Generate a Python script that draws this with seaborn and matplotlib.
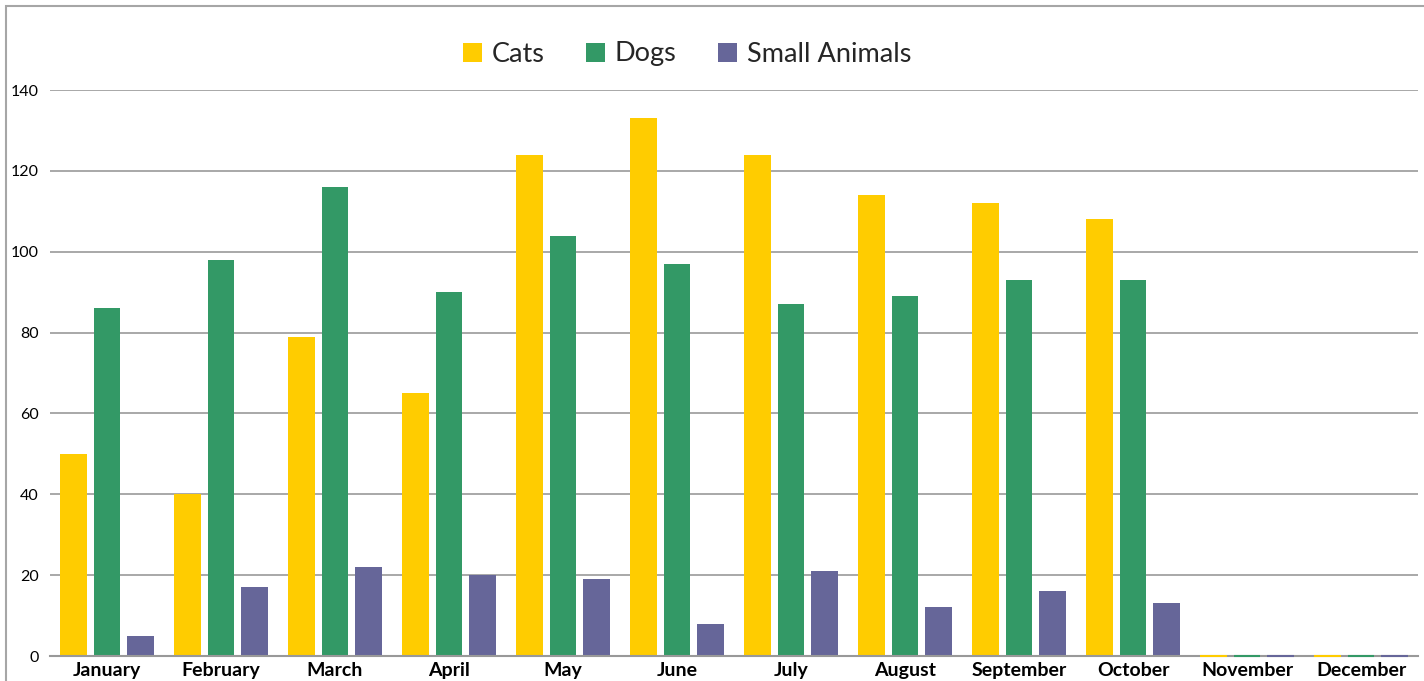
import pandas as pd
import matplotlib.pyplot as plt
import seaborn as sns
from matplotlib.patches import Rectangle

# Monthly intake counts
months = ["January", "February", "March", "April", "May", "June",
          "July", "August", "September", "October", "November", "December"]
cats = [50, 40, 79, 65, 124, 133, 124, 114, 112, 108, 0, 0]
dogs = [86, 98, 116, 90, 104, 97, 87, 89, 93, 93, 0, 0]
small_animals = [5, 17, 22, 20, 19, 8, 21, 12, 16, 13, 0, 0]

series = {"Cats": cats, "Dogs": dogs, "Small Animals": small_animals}
colors = {"Cats": "#FFCC00", "Dogs": "#339966", "Small Animals": "#666699"}

df = pd.DataFrame(
    [(m, name, v) for name, vals in series.items() for m, v in zip(months, vals)],
    columns=["Month", "Animal", "Count"],
)

sns.set_theme(style="white")
plt.rcParams["font.family"] = ["Lato", "DejaVu Sans"]

fig = plt.figure(figsize=(14.24, 6.81), dpi=100)
ax = fig.add_axes([50 / 1424, 1 - 656 / 681, (1418 - 50) / 1424, (656 - 90) / 681])

sns.barplot(data=df, x="Month", y="Count", hue="Animal", palette=colors,
            width=0.88, gap=0.2, ax=ax, linewidth=0, saturation=1)

# zero values still show as a thin line of colour over the axis line
for bar in ax.patches:
    if bar.get_height() == 0 and bar.get_width() > 0:
        bar.set_edgecolor(bar.get_facecolor())
        bar.set_linewidth(1.5)
        bar.set_zorder(5)
        bar.set_clip_on(False)

ax.set_xlim(-0.5, 11.5)
ax.set_ylim(0, 140)
ax.set_yticks(range(0, 141, 20))
ax.yaxis.grid(True, color="#999999", linewidth=1.2)
ax.set_axisbelow(True)
ax.set_xlabel("")
ax.set_ylabel("")

for side in ["left", "right", "top"]:
    ax.spines[side].set_visible(False)
ax.spines["bottom"].set_color("#999999")
ax.spines["bottom"].set_linewidth(1.5)

ax.tick_params(axis="y", length=5, color="#999999", width=1.2, labelsize=11.5,
               labelcolor="black", pad=3)
ax.tick_params(axis="x", length=0, labelsize=14, labelcolor="black", pad=4)
for lbl in ax.get_xticklabels():
    lbl.set_fontweight("bold")

ax.legend(loc="center", bbox_to_anchor=((687 - 50) / 1368, (656 - 54) / 566),
          ncol=3, frameon=False, fontsize=19.5, handlelength=0.7, handleheight=0.7,
          handletextpad=0.35, columnspacing=1.55)

# outer frame
fig.patches.append(Rectangle((6 / 1424, -0.1), 1.1, 1 - 6 / 681 + 0.1,
                             transform=fig.transFigure, fill=False,
                             edgecolor="#A6A6A6", linewidth=1.5))

plt.savefig("out.png", dpi=100)
